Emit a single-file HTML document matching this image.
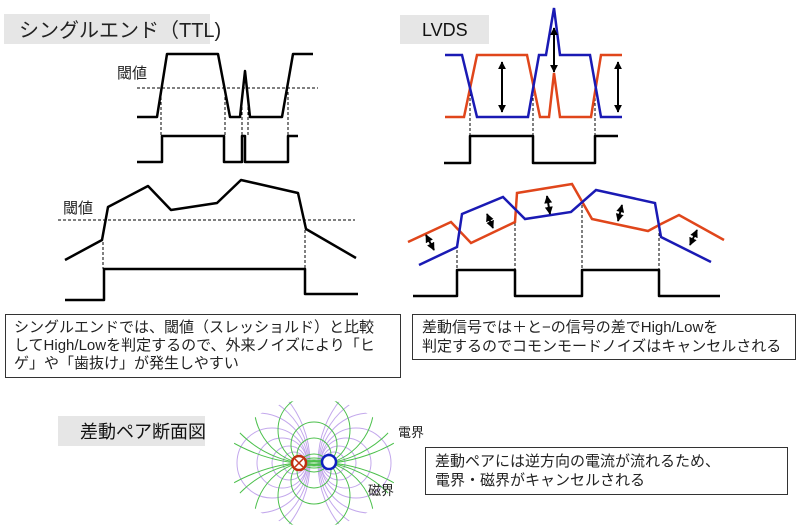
<!DOCTYPE html>
<html><head><meta charset="utf-8"><style>
html,body{margin:0;padding:0;background:#fff;width:800px;height:529px;overflow:hidden;}
svg{display:block;font-family:"Liberation Sans","Noto Sans CJK JP",sans-serif;}
</style></head><body>
<svg width="800" height="529" viewBox="0 0 800 529" xmlns="http://www.w3.org/2000/svg">
<defs>
<marker id="ah" viewBox="0 0 10 10" refX="9" refY="5" markerWidth="4" markerHeight="4" orient="auto-start-reverse"><path d="M0,0L10,5L0,10z" fill="#000"/></marker>
<clipPath id="fc"><ellipse cx="314" cy="463" rx="84" ry="64"/></clipPath>
</defs>
<rect x="4" y="14" width="206" height="30" fill="#e6e6e6"/>
<text x="19" y="37" font-size="20" fill="#222">シングルエンド（TTL)</text>
<rect x="400" y="15" width="89" height="29" fill="#e6e6e6"/>
<text x="422" y="36" font-size="18" fill="#111">LVDS</text>
<rect x="58" y="416" width="147" height="30" fill="#e6e6e6"/>
<text x="80" y="438" font-size="18" fill="#111">差動ペア断面図</text>

<g fill="none" stroke="#000" stroke-width="2.5" stroke-linejoin="round">
<polyline points="137,117 157,117 167,54 218,54 230,117 240,117 245,71 250,117 282,117 293,54 313,54"/>
<polyline points="137,162 162,162 162,136 224,136 224,162 242,162 242,136 245,136 245,162 248,162 248,162 288,162 288,136 298,136"/>
<polyline points="65,260 102,240 108,207 148,186 171,210 217,203 241,180 298,193 306,229 356,258"/>
<polyline points="65,300 104,300 104,269 305,269 305,294 358,294"/>
<polyline points="444,163 470,163 470,136 533,136 533,163 595,163 595,136 618,136"/>
<polyline points="413,296 457,296 457,270 515,270 515,296 582,296 582,270 659,270 659,296 720,296"/>
</g>
<g stroke="#000" stroke-width="1" stroke-dasharray="3,2" fill="none">
<line x1="137" y1="88" x2="318" y2="88"/>
<line x1="58" y1="220" x2="355" y2="220"/>
<line x1="161" y1="92" x2="161" y2="136"/><line x1="225" y1="92" x2="225" y2="136"/>
<line x1="242" y1="92" x2="242" y2="136"/><line x1="248" y1="92" x2="248" y2="136"/><line x1="288" y1="92" x2="288" y2="136"/>
<line x1="103" y1="242" x2="103" y2="269"/><line x1="305" y1="230" x2="305" y2="269"/>
<line x1="470" y1="88" x2="470" y2="136"/><line x1="533" y1="88" x2="533" y2="136"/><line x1="595" y1="88" x2="595" y2="136"/>
<line x1="457" y1="245" x2="457" y2="270"/><line x1="515" y1="218" x2="515" y2="270"/><line x1="582" y1="200" x2="582" y2="270"/><line x1="659" y1="228" x2="659" y2="270"/>
</g>
<text x="117" y="78" font-size="15" fill="#222">閾値</text>
<text x="63" y="213" font-size="15" fill="#222">閾値</text>

<polyline fill="none" stroke="#e0461b" stroke-width="2.5" points="445,117 464,117 477,55 527,55 540,117 549,117 554,73 560,117 591,117 601,55 622,55"/>
<polyline fill="none" stroke="#1a1ab4" stroke-width="2.5" points="445,55 462,55 477,117 528,117 539,55 546,55 554,8 560,55 590,55 601,117 622,117"/>
<polyline fill="none" stroke="#e0461b" stroke-width="2.5" points="408,242 451,222 471,243 515,222 517,193 572,184 592,219 648,231 661,224 679,215 724,240"/>
<polyline fill="none" stroke="#1a1ab4" stroke-width="2.5" points="419,265 457,247 462,214 503,197 525,219 571,212 596,190 655,203 661,237 711,262"/>
<g stroke="#000" stroke-width="2" marker-start="url(#ah)" marker-end="url(#ah)">
<line x1="502" y1="62" x2="502" y2="112"/><line x1="554" y1="28" x2="554" y2="72"/><line x1="618" y1="62" x2="618" y2="112"/>
<line x1="426" y1="235" x2="434" y2="250"/><line x1="487" y1="214" x2="493" y2="228"/><line x1="547" y1="196" x2="550" y2="214"/>
<line x1="622" y1="205" x2="618" y2="221"/><line x1="697" y1="230" x2="690" y2="245"/>
</g>

<rect x="5.5" y="314.5" width="395" height="63" fill="#fff" stroke="#333"/>
<text font-size="15" fill="#222"><tspan x="14" y="332">シングルエンドでは、閾値（スレッショルド）と比較</tspan><tspan x="14" y="350">してHigh/Lowを判定するので、外来ノイズにより「ヒ</tspan><tspan x="14" y="368">ゲ」や「歯抜け」が発生しやすい</tspan></text>
<rect x="412.5" y="314.5" width="383" height="45" fill="#fff" stroke="#333"/>
<text font-size="15" fill="#222"><tspan x="422" y="332">差動信号では＋と−の信号の差でHigh/Lowを</tspan><tspan x="422" y="351">判定するのでコモンモードノイズはキャンセルされる</tspan></text>
<rect x="425.5" y="447.5" width="362" height="47" fill="#fff" stroke="#333"/>
<text font-size="15" fill="#222"><tspan x="435" y="466">差動ペアには逆方向の電流が流れるため、</tspan><tspan x="435" y="485">電界・磁界がキャンセルされる</tspan></text>

<g clip-path="url(#fc)" fill="none" stroke-width="1">
<g stroke="#c3a8ec">
<circle cx="297" cy="463" r="6"/><circle cx="294" cy="463" r="11"/><circle cx="289" cy="463" r="17"/><circle cx="282" cy="463" r="25"/><circle cx="272" cy="463" r="35"/><circle cx="258" cy="463" r="50"/><circle cx="238" cy="463" r="71"/><circle cx="210" cy="463" r="100"/>
<circle cx="331" cy="463" r="6"/><circle cx="334" cy="463" r="11"/><circle cx="339" cy="463" r="17"/><circle cx="346" cy="463" r="25"/><circle cx="356" cy="463" r="35"/><circle cx="370" cy="463" r="50"/><circle cx="390" cy="463" r="71"/><circle cx="418" cy="463" r="100"/>
</g>
<g stroke="#4cc04c">
<circle cx="314" cy="455" r="17"/><circle cx="314" cy="471" r="17"/>
<circle cx="314" cy="445" r="23"/><circle cx="314" cy="481" r="23"/>
<circle cx="314" cy="430" r="36"/><circle cx="314" cy="496" r="36"/>
<circle cx="314" cy="405" r="60"/><circle cx="314" cy="521" r="60"/>
<circle cx="314" cy="360" r="104"/><circle cx="314" cy="566" r="104"/>
<circle cx="314" cy="300" r="164"/><circle cx="314" cy="626" r="164"/>
</g>
</g>
<circle cx="299" cy="463" r="7" fill="#fff" stroke="#c03010" stroke-width="2.5"/>
<path d="M295,459L303,467M303,459L295,467" stroke="#c03010" stroke-width="1.5"/>
<circle cx="329" cy="462" r="7" fill="#fff" stroke="#1020c0" stroke-width="2.5"/>
<text x="398" y="437" font-size="13" fill="#222">電界</text>
<text x="368" y="495" font-size="13" fill="#222">磁界</text>
</svg>
</body></html>
